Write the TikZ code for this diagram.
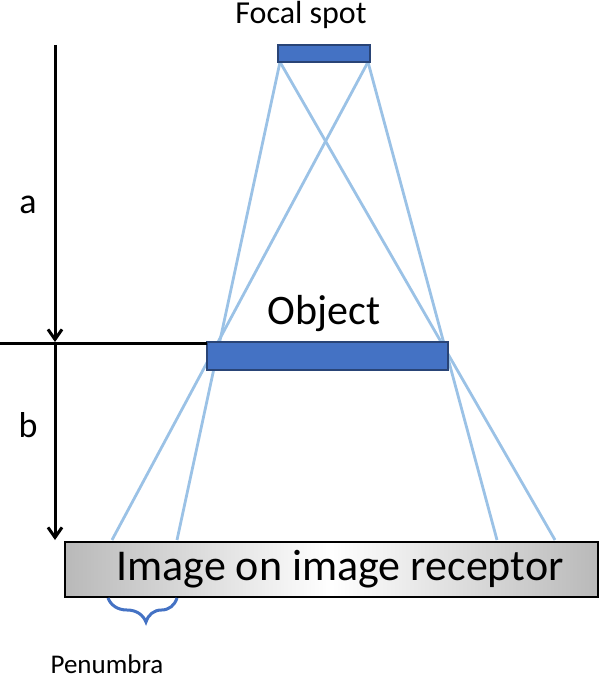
\documentclass[tikz,border=0pt]{standalone}
\usepackage{fontspec}
\setmainfont{Carlito}
\usetikzlibrary{decorations.pathreplacing,arrows.meta}
\begin{document}
\begin{tikzpicture}[x=1pt,y=-1pt,
  axis/.style={line width=3pt,-{Straight Barb[length=10pt,width=14pt,line width=3pt]}},
  lbl/.style={font=\fontsize{#1}{#1}\selectfont},lbl/.default=34]
\useasboundingbox (0,0) rectangle (600,684);
\definecolor{bx}{RGB}{68,114,196}
\definecolor{rc}{RGB}{155,194,230}
\tikzset{blk/.style={draw=bx!60!black,fill=bx,line width=2.5pt},ray/.style={draw=rc,line width=2.8pt}}
% rays
\coordinate (fl) at (280,62); \coordinate (fr) at (368,62);
\coordinate (r1) at (112,540); \coordinate (r2) at (177,540);
\coordinate (r3) at (497,540); \coordinate (r4) at (555,540);
\draw[ray] (fl) -- (r2); \draw[ray] (fr) -- (r1);
\draw[ray] (fl) -- (r4); \draw[ray] (fr) -- (r3);
% receptor
\shade[left color=gray!55,right color=gray!55,middle color=white,draw=black,line width=2.5pt] (65,542) rectangle (598,597);
\node[lbl=44] (img) at (340,569) {Image on image receptor};
% blocks
\draw[blk] (278,45) rectangle (370,62);
\node[lbl=32] (fs) at (301,15) {Focal spot};
\draw[blk] (207,342) rectangle (448,370);
\node[lbl=42] (obj) at (324,314) {Object};
% axes
\coordinate (top) at (55,45); \coordinate (mid) at (55,342); \coordinate (bot) at (55,540);
\coordinate (hl) at (0,343); \coordinate (hr) at (207,343);
\draw[axis] (top) -- (mid);
\draw[axis] (mid) -- (bot);
\draw[line width=3pt] (hl) -- (hr);
\node[lbl=36] (a) at (28,205) {a};
\node[lbl=36] (b) at (28,425) {b};
% brace
\coordinate (bl) at (108,598); \coordinate (br) at (177,598);
\draw[bx,line width=3pt,decorate,decoration={brace,mirror,amplitude=24pt,aspect=0.55}] (bl) -- (br);
\node[lbl=27] (pen) at (107,664) {Penumbra};
\end{tikzpicture}
\end{document}
